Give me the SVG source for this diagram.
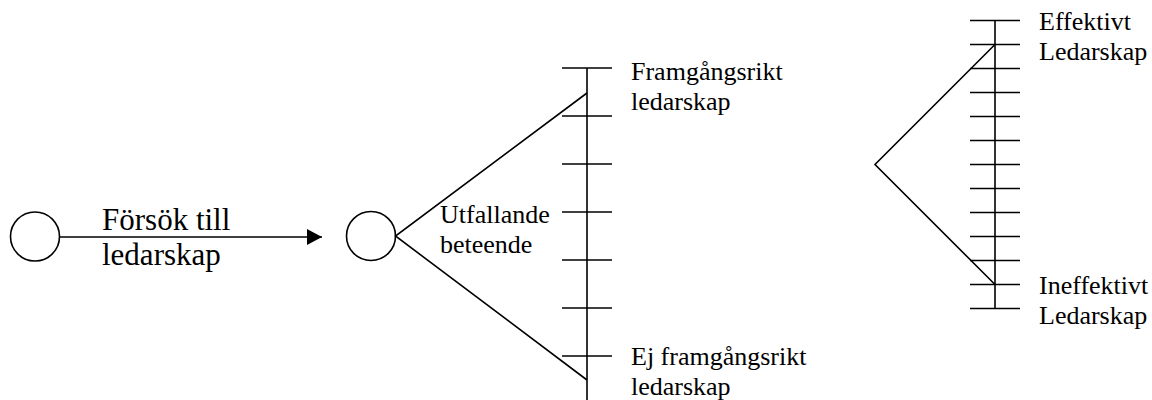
<svg xmlns="http://www.w3.org/2000/svg" width="1152" height="400" viewBox="0 0 1152 400">
  <style>
    .ln { stroke: #000; stroke-width: 1.6; fill: none; }
    .node { stroke: #000; stroke-width: 1.6; fill: #fff; }
    .lbl { font-size: 26px; fill: #000; }
    .big { font-size: 31px; }
  </style>
  <defs>
    <marker id="arrow" markerWidth="16" markerHeight="16" refX="15" refY="8" orient="auto" markerUnits="userSpaceOnUse">
      <path d="M0,0 L15,8 L0,16 Z" fill="#000"/>
    </marker>
  </defs>

  <!-- start node -->
  <g id="start">
    <circle class="node" cx="35" cy="236.5" r="24.5"/>
  </g>

  <!-- decision node -->
  <g id="decision">
    <circle class="node" cx="371" cy="236" r="24.5"/>
  </g>

  <!-- success scale (7 ticks) -->
  <g id="scale-success">
    <line class="ln" x1="587" y1="68" x2="587" y2="400"/>
    <line class="ln" x1="562" y1="68" x2="612" y2="68"/>
    <line class="ln" x1="562" y1="116" x2="612" y2="116"/>
    <line class="ln" x1="562" y1="164" x2="612" y2="164"/>
    <line class="ln" x1="562" y1="212" x2="612" y2="212"/>
    <line class="ln" x1="562" y1="260" x2="612" y2="260"/>
    <line class="ln" x1="562" y1="308" x2="612" y2="308"/>
    <line class="ln" x1="562" y1="356" x2="612" y2="356"/>
  </g>

  <!-- effectiveness scale (13 ticks) -->
  <g id="scale-effect">
    <line class="ln" x1="995" y1="20.5" x2="995" y2="308.5"/>
    <line class="ln" x1="970" y1="20.5" x2="1020" y2="20.5"/>
    <line class="ln" x1="970" y1="44.5" x2="1020" y2="44.5"/>
    <line class="ln" x1="970" y1="68.5" x2="1020" y2="68.5"/>
    <line class="ln" x1="970" y1="92.5" x2="1020" y2="92.5"/>
    <line class="ln" x1="970" y1="116.5" x2="1020" y2="116.5"/>
    <line class="ln" x1="970" y1="140.5" x2="1020" y2="140.5"/>
    <line class="ln" x1="970" y1="164.5" x2="1020" y2="164.5"/>
    <line class="ln" x1="970" y1="188.5" x2="1020" y2="188.5"/>
    <line class="ln" x1="970" y1="212.5" x2="1020" y2="212.5"/>
    <line class="ln" x1="970" y1="236.5" x2="1020" y2="236.5"/>
    <line class="ln" x1="970" y1="260.5" x2="1020" y2="260.5"/>
    <line class="ln" x1="970" y1="284.5" x2="1020" y2="284.5"/>
    <line class="ln" x1="970" y1="308.5" x2="1020" y2="308.5"/>
  </g>

  <!-- connectors -->
  <g id="connectors">
    <line class="ln" x1="59.5" y1="237" x2="322" y2="237" marker-end="url(#arrow)"/>
    <polyline class="ln" points="587,93 395.5,236 587,380"/>
    <polyline class="ln" points="995,44.5 875,164.5 995,284.5"/>
  </g>

  <!-- labels -->
  <g id="labels" font-family="'Liberation Serif', 'DejaVu Serif', serif">
    <text class="lbl big" x="102" y="230">Försök till</text>
    <text class="lbl big" x="102" y="265">ledarskap</text>
    <text class="lbl" x="440" y="223">Utfallande</text>
    <text class="lbl" x="440" y="253">beteende</text>
    <text class="lbl" x="631" y="80">Framgångsrikt</text>
    <text class="lbl" x="631" y="110">ledarskap</text>
    <text class="lbl" x="631" y="365">Ej framgångsrikt</text>
    <text class="lbl" x="631" y="395">ledarskap</text>
    <text class="lbl" x="1039" y="30">Effektivt</text>
    <text class="lbl" x="1039" y="60">Ledarskap</text>
    <text class="lbl" x="1039" y="294">Ineffektivt</text>
    <text class="lbl" x="1039" y="324">Ledarskap</text>
  </g>
</svg>
